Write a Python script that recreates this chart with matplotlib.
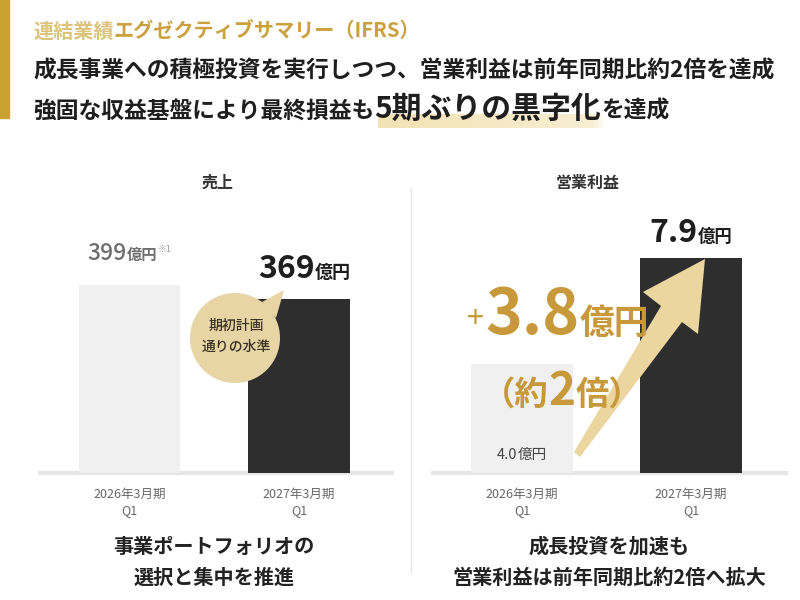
import matplotlib
matplotlib.use('Agg')
import matplotlib.pyplot as plt
from matplotlib.patches import Rectangle, Ellipse, Polygon
import numpy as np

plt.rcParams['font.family'] = ['Noto Sans CJK JP', 'DejaVu Sans']

# ---- data ----
periods = ['2026年3月期\nQ1', '2027年3月期\nQ1']
sales = [399, 369]            # 億円
op_profit = [4.0, 7.9]        # 億円
op_increase = 3.8             # 億円
unit = '億円'

W, H = 800, 600
fig = plt.figure(figsize=(8, 6), dpi=100)
fig.patch.set_facecolor('white')
renderer = fig.canvas.get_renderer()

def fx(px):
    return px / W

def fy(py):
    return 1 - py / H

def rich(x_px, base_py, pieces, ha='left', zorder=5):
    arts = []
    for p in pieces:
        s, size, wt, col = p[:4]
        dy = p[4] if len(p) > 4 else 0
        t = fig.text(0, 0, s, fontsize=size, fontweight=wt, color=col,
                     va='baseline', ha='left', zorder=zorder)
        arts.append((t, dy))
    widths = [t.get_window_extent(renderer).width for t, _ in arts]
    total = sum(widths)
    if ha == 'center':
        x0 = x_px - total / 2
    elif ha == 'right':
        x0 = x_px - total
    else:
        x0 = x_px
    for (t, dy), w in zip(arts, widths):
        t.set_position((fx(x0), fy(base_py - dy)))
        x0 += w
    return arts

def data_to_px(ax, x, y):
    dx, dy = ax.transData.transform((x, y))
    return dx, H - dy

# ---- header ----
fig.patches.append(Rectangle((0, fy(118)), fx(9), 118 / H, transform=fig.transFigure,
                             color='#c9a232', zorder=1))
rich(33, 38, [('連結業績', 14.5, 'bold', '#dcc47f'),
              ('エグゼクティブサマリー（IFRS）', 14.5, 'bold', '#caa13e')])
rich(33, 78, [('成長事業への積極投資を実行しつつ、営業利益は前年同期比約2倍を達成', 16.4, 'bold', '#1e1e1e')])

# highlight under "5期ぶりの黒字化"
hl = fig.add_axes([fx(378), fy(128), fx(606) - fx(378), (128 - 114) / H], zorder=0)
grad = np.linspace(0, 1, 200)
img = np.zeros((1, 200, 4))
img[0, :, 0] = 0.93
img[0, :, 1] = 0.84
img[0, :, 2] = 0.58
img[0, :, 3] = 0.7 - 0.3 * grad
img[0, -12:, 3] *= np.linspace(1, 0, 12)
hl.imshow(img, aspect='auto', extent=(0, 1, 0, 1))
hl.axis('off')

rich(33, 118, [('強固な収益基盤により最終損益も', 16.4, 'bold', '#1e1e1e'),
               ('5期ぶりの黒字化', 21.5, 'bold', '#1e1e1e'),
               ('を達成', 16.4, 'bold', '#1e1e1e')])

# ---- axes ----
base_py = 473
top_py = 200
ax_h = (base_py - top_py) / H

ax1 = fig.add_axes([fx(40), fy(base_py), (392 - 40) / W, ax_h])
ax2 = fig.add_axes([fx(433), fy(base_py), (786 - 433) / W, ax_h])

bar_colors = ['#f0f0f0', '#2e2e2e']
x = np.arange(2)

ax1.bar(x, sales, width=0.6, color=bar_colors, zorder=2)
ax1.set_xlim(-0.528, 1.549)
ax1.set_ylim(0, (base_py - top_py) * 399 / 188)

ax2.bar(x, op_profit, width=0.6, color=bar_colors, zorder=2)
ax2.set_xlim(-0.527, 1.562)
ax2.set_ylim(0, (base_py - top_py) * 7.9 / 215)

for ax in (ax1, ax2):
    ax.axhline(0, color='#e6e6e6', lw=3, zorder=1, clip_on=False)
    for s in ax.spines.values():
        s.set_visible(False)
    ax.set_yticks([])
    ax.set_xticks(x)
    ax.set_xticklabels(periods, fontsize=9, color='#666666', linespacing=1.25)
    ax.tick_params(axis='x', length=0, pad=11)
    ax.set_facecolor('none')

# divider
fig.add_artist(plt.Line2D([fx(411), fx(411)], [fy(188), fy(572)], color='#e6e6e6', lw=1))

# panel titles
fig.text(fx(218), fy(183), '売上', fontsize=11.5, fontweight='bold', color='#333333',
         ha='center', va='center')
fig.text(fx(588), fy(183), '営業利益', fontsize=11.5, fontweight='bold', color='#333333',
         ha='center', va='center')

# value labels: sales
px, py = data_to_px(ax1, 0, sales[0])
rich(px, py - 25, [(f'{sales[0]}', 16.5, 'medium', '#6e6e6e'),
                   (unit, 11, 'bold', '#6e6e6e'),
                   ('※1', 6.5, 'normal', '#9a9a9a', 8)], ha='center')
px, py = data_to_px(ax1, 1, sales[1])
rich(px + 6, py - 21, [(f'{sales[1]}', 23, 'bold', '#1e1e1e'),
                       (unit, 13, 'bold', '#1e1e1e')], ha='center')

# value labels: operating profit
px, py = data_to_px(ax2, 1, op_profit[1])
rich(px, py - 16, [(f'{op_profit[1]:.1f}', 23, 'bold', '#1e1e1e'),
                   (unit, 12.5, 'bold', '#1e1e1e')], ha='center')
px, py = data_to_px(ax2, 0, 0)
rich(px, py - 14, [(f'{op_profit[0]:.1f}', 10.5, 'normal', '#444444'),
                   (unit, 10.5, 'normal', '#444444')], ha='center')

# arrow (decorative)
arrow_pts = [(574, 452), (580, 457), (682, 322), (698, 334), (705, 259),
             (643, 292), (661, 306)]
fig.patches.append(Polygon([(fx(a), fy(b)) for a, b in arrow_pts], closed=True,
                           transform=fig.transFigure, facecolor='#ebd6a0',
                           edgecolor='none', zorder=2))

gold = '#c7993a'
rich(558, 334, [('+', 22, 'normal', gold, 6),
                (' ', 8, 'normal', gold),
                (f'{op_increase:.1f}', 45, 'bold', gold),
                (unit, 25, 'bold', gold)], ha='center')
rich(562, 405, [('（約', 24, 'bold', gold),
                ('2', 33, 'bold', gold),
                ('倍）', 24, 'bold', gold)], ha='center')

# speech bubble
cx, cy, r = 235, 338, 45
fig.patches.append(Ellipse((fx(cx), fy(cy)), 2 * r / W, 2 * r / H, transform=fig.transFigure,
                           facecolor='#e8d5a5', edgecolor='none', zorder=3))
tail = [(262, 302), (284, 290), (276, 318)]
fig.patches.append(Polygon([(fx(a), fy(b)) for a, b in tail], closed=True,
                           transform=fig.transFigure, facecolor='#e8d5a5',
                           edgecolor='none', zorder=3))
fig.text(fx(cx + 1), fy(326), '期初計画', fontsize=10, fontweight='medium', color='#3a3222',
         ha='center', va='center', zorder=4)
fig.text(fx(cx + 1), fy(347), '通りの水準', fontsize=10, fontweight='medium', color='#3a3222',
         ha='center', va='center', zorder=4)

# bottom captions
fig.text(fx(214), fy(546), '事業ポートフォリオの', fontsize=14.5, fontweight='bold',
         color='#222222', ha='center', va='center')
fig.text(fx(214), fy(577), '選択と集中を推進', fontsize=14.5, fontweight='bold',
         color='#222222', ha='center', va='center')
fig.text(fx(609), fy(546), '成長投資を加速も', fontsize=14.5, fontweight='bold',
         color='#222222', ha='center', va='center')
fig.text(fx(609), fy(577), '営業利益は前年同期比約2倍へ拡大', fontsize=14.5, fontweight='bold',
         color='#222222', ha='center', va='center')

fig.savefig('out.png', dpi=100, facecolor='white')
